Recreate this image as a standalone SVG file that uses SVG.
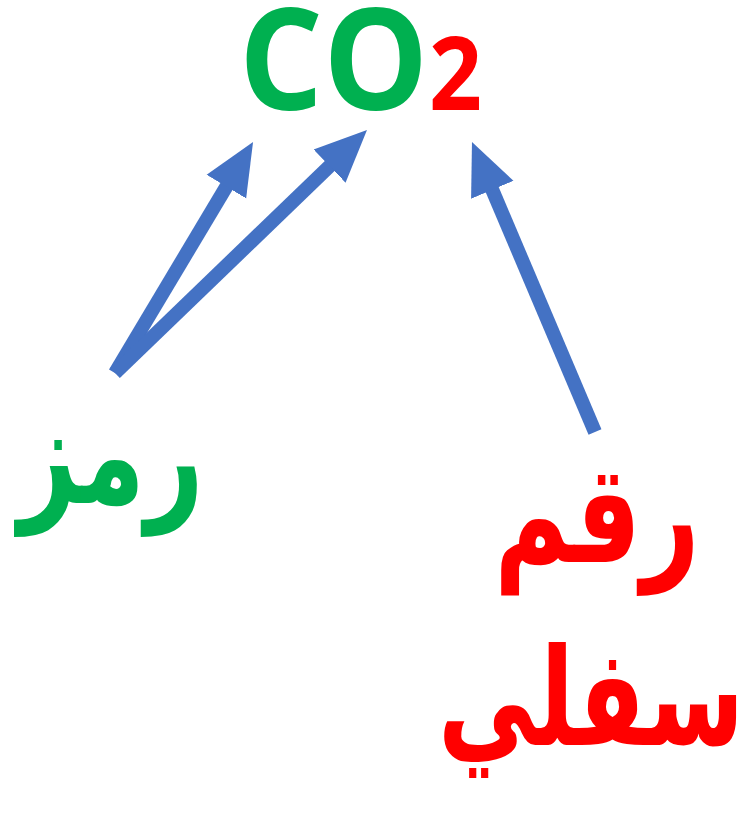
<svg xmlns="http://www.w3.org/2000/svg" width="749" height="819" viewBox="0 0 749 819">
<style>
.lat{font-family:"Open Sans","Liberation Sans",sans-serif;font-weight:bold}
.ar{font-family:"DejaVu Sans",sans-serif;font-weight:bold;text-anchor:middle;direction:rtl;font-size:102px}
.g{fill:#00B050}
.r{fill:#FF0000}
.conn{stroke:#4472C4;stroke-width:14;fill:none;marker-end:url(#ah)}
</style>
<defs>
<marker id="ah" markerUnits="userSpaceOnUse" markerWidth="54" markerHeight="48" refX="2" refY="23" orient="auto" viewBox="0 0 54 46">
<path d="M0,0 L52,23 L0,46 z" fill="#4472C4"/>
</marker>
</defs>
<g id="formula">
<text class="lat g" transform="translate(239,110) scale(0.93,1)" font-size="142">CO</text>
<text class="lat r" transform="translate(429,110) scale(0.9,1)" font-size="103">2</text>
</g>
<g id="symbol">
<text class="ar g" transform="translate(111,503) scale(1,1.35)">رمز</text>
</g>
<g id="subscript">
<text class="ar r" transform="translate(597,562) scale(1,1.35)">رقم</text>
<text class="ar r" transform="translate(591,745) scale(1,1.38)" style="font-size:98px">سفلي</text>
</g>
<g id="connectors">
<line class="conn" x1="115" y1="373" x2="227.4" y2="184.9"/>
<line class="conn" x1="115" y1="373" x2="331" y2="164.7"/>
<line class="conn" x1="595" y1="432" x2="491.5" y2="188"/>
</g>
</svg>
